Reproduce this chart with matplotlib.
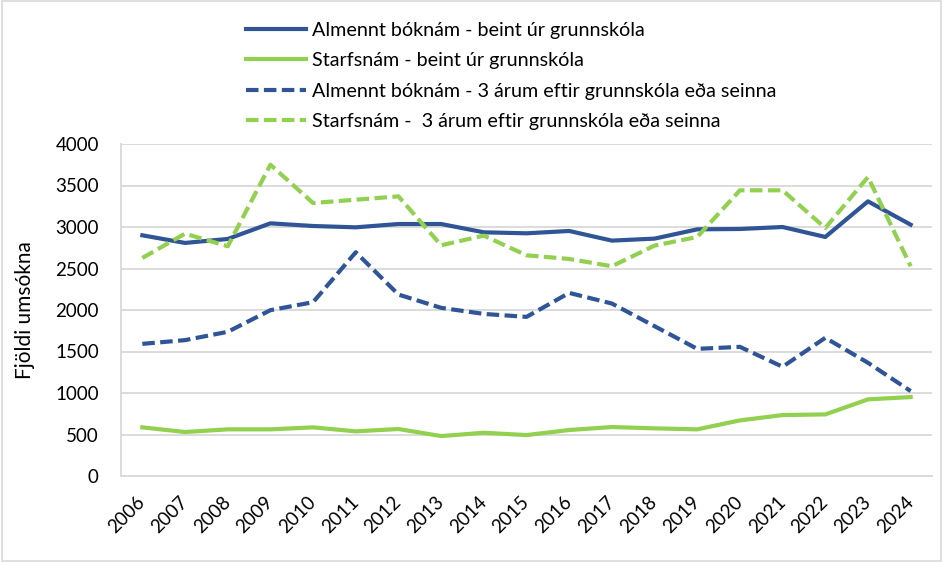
import numpy as np
import matplotlib
matplotlib.use("Agg")
import matplotlib.pyplot as plt
from matplotlib.patches import Rectangle

# Data
years = list(range(2006, 2025))
almennt_beint = [2900, 2808, 2856, 3044, 3012, 2996, 3036, 3036, 2936, 2924,
                 2952, 2836, 2860, 2972, 2976, 3000, 2880, 3309, 3028]
starfs_beint = [586, 530, 562, 562, 586, 538, 566, 481, 521, 493,
                554, 590, 574, 562, 670, 734, 742, 923, 951]
almennt_seinna = [1592, 1637, 1737, 1998, 2094, 2696, 2186, 2026, 1953, 1917,
                  2206, 2078, 1805, 1532, 1556, 1316, 1665, 1364, 1023]
starfs_seinna = [2627, 2920, 2768, 3750, 3289, 3329, 3369, 2780, 2896, 2659,
                 2615, 2527, 2776, 2880, 3442, 3442, 2988, 3602, 2527]
labels = ["Almennt bóknám - beint úr grunnskóla",
          "Starfsnám - beint úr grunnskóla",
          "Almennt bóknám - 3 árum eftir grunnskóla eða seinna",
          "Starfsnám -  3 árum eftir grunnskóla eða seinna"]

blue = "#2F5597"
green = "#92D050"

plt.rcParams['font.family'] = ['Lato', 'DejaVu Sans']

fig = plt.figure(figsize=(9.43, 5.62), dpi=100)
ax = fig.add_axes([121/943, 1 - 476/562, (932-121)/943, (476-144)/562])

lw = 3.0
dash = (3.0, 1.3)
ax.plot(years, almennt_beint, color=blue, lw=lw, label=labels[0])
ax.plot(years, starfs_beint, color=green, lw=lw, label=labels[1])
ax.plot(years, almennt_seinna, color=blue, lw=lw, dashes=dash, label=labels[2])
ax.plot(years, starfs_seinna, color=green, lw=lw, dashes=dash, label=labels[3])

ax.set_xlim(2005.5, 2024.5)
ax.set_ylim(0, 4000)
ax.set_yticks(range(0, 4001, 500))
ax.set_xticks(years)
ax.set_xticklabels([str(y) for y in years], rotation=45, ha='right', va='center',
                   rotation_mode='anchor')
ax.tick_params(axis='both', length=0, labelsize=13.5, colors='black')
ax.tick_params(axis='x', pad=17)
ax.tick_params(axis='y', pad=16)
ax.grid(axis='y', color='#D9D9D9', lw=1.3)
ax.set_axisbelow(True)
for s in ['top', 'right']:
    ax.spines[s].set_visible(False)
for s in ['left', 'bottom']:
    ax.spines[s].set_color('#D9D9D9')
    ax.spines[s].set_linewidth(1.3)
ax.set_ylabel("Fjöldi umsókna", fontsize=15)
ax.yaxis.set_label_coords(-0.106, 0.5)

fig.legend(loc='upper left', bbox_to_anchor=(228/943, 1 - 4/562), frameon=False,
           fontsize=14.2, handlelength=3.05, handletextpad=0.3, labelspacing=0.68)

fig.patches.append(Rectangle((0.002, 0.002), 0.996, 0.996, transform=fig.transFigure,
                             fill=False, edgecolor='#D9D9D9', lw=1.2))

fig.savefig("out.png", dpi=100)
